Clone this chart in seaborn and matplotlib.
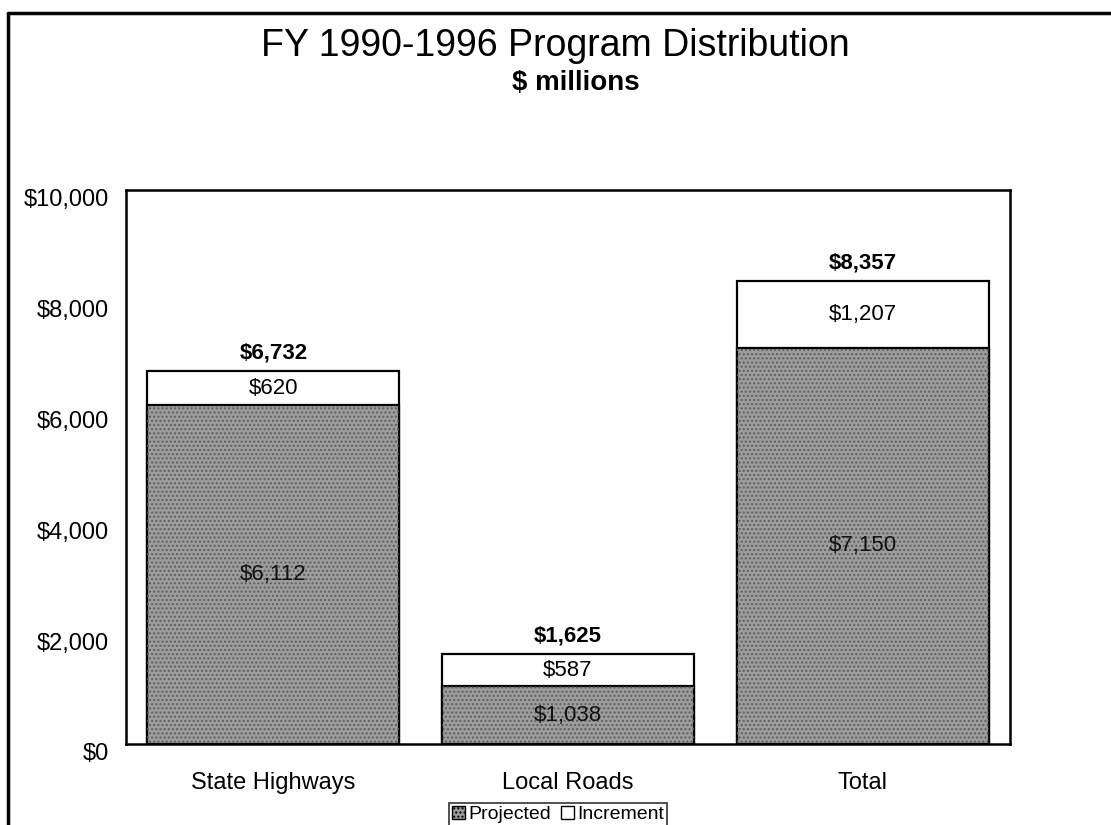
import numpy as np
import pandas as pd
import seaborn as sns
import matplotlib.pyplot as plt
import matplotlib.transforms as mtransforms
from matplotlib.lines import Line2D
from matplotlib.patches import Patch

categories = ["State Highways", "Local Roads", "Total"]
projected = [6112, 1038, 7150]
increment = [620, 587, 1207]
y_ticks = [0, 2000, 4000, 6000, 8000, 10000]

totals = [p + i for p, i in zip(projected, increment)]

df = pd.DataFrame({
    "category": categories,
    "projected": projected,
    "increment": increment,
    "total": totals,
})

sns.set_style("white")
plt.rcParams['font.family'] = ['Liberation Sans', 'DejaVu Sans']
plt.rcParams['text.color'] = 'black'
plt.rcParams['xtick.color'] = 'black'
plt.rcParams['ytick.color'] = 'black'

fig = plt.figure(figsize=(11.11, 8.25), dpi=100)
ax = fig.add_axes([0.1134, 0.0982, 0.7957, 0.6715])

gray = "#9d9d9d"
bar_w = 0.855

# full stack (white increment on top), then projected part over it
sns.barplot(data=df, x="category", y="total", color="white", width=bar_w,
            edgecolor="black", linewidth=1.6, saturation=1, ax=ax)
sns.barplot(data=df, x="category", y="projected", color=gray, width=bar_w,
            edgecolor="black", linewidth=1.6, saturation=1, ax=ax)
# stipple texture
sns.barplot(data=df, x="category", y="projected", fill=False, width=bar_w,
            edgecolor="#5e5e5e", linewidth=0, hatch="....", ax=ax)

ax.set_ylim(0, 10000)
ax.set_xlim(-0.5, 2.5)
ax.set_yticks(y_ticks)
ax.set_yticklabels([f"${v:,}" for v in y_ticks], fontsize=17)
ax.tick_params(axis="y", length=0, pad=12)
ax.tick_params(axis="x", length=0, pad=20, labelsize=17)
ax.set_xlabel("")
ax.set_ylabel("")

# tick labels sit a bit below their gridline in the original
offset = mtransforms.ScaledTranslation(0, -8 / 100, fig.dpi_scale_trans)
for lab in ax.get_yticklabels():
    lab.set_transform(lab.get_transform() + offset)

for sp in ax.spines.values():
    sp.set_visible(True)
    sp.set_color("black")
    sp.set_linewidth(1.8)

for i, cat in enumerate(categories):
    p, inc, t = projected[i], increment[i], totals[i]
    ax.text(i, t + 330, f"${t:,}", ha="center", va="center",
            fontsize=16, fontweight="bold")
    ax.text(i, p + inc / 2, f"${inc:,}", ha="center", va="center", fontsize=16)
    ax.text(i, p / 2, f"${p:,}", ha="center", va="center", fontsize=16,
            color="#111111")

fig.text(0.5, 1 - 46 / 825, "FY 1990-1996 Program Distribution",
         ha="center", va="center", fontsize=27)
fig.text(0.518, 1 - 83 / 825, "$ millions", ha="center", va="center",
         fontsize=20, fontweight="bold")

handles = [
    Patch(facecolor=gray, edgecolor="black", hatch="....", label="Projected"),
    Patch(facecolor="white", edgecolor="black", label="Increment"),
]
leg = fig.legend(handles=handles, loc="upper center",
                 bbox_to_anchor=(0.502, 1 - 793 / 825), ncol=2, fontsize=14,
                 frameon=True, fancybox=False, handlelength=0.7,
                 handleheight=0.7, handletextpad=0.15, columnspacing=0.5,
                 borderpad=0.15)
leg.get_frame().set_edgecolor("black")
leg.get_frame().set_linewidth(1.2)

# page border lines (top and left)
fig.add_artist(Line2D([8 / 1111, 1.0], [1 - 13 / 825, 1 - 13 / 825],
                      transform=fig.transFigure, color="black", linewidth=2.5))
fig.add_artist(Line2D([8 / 1111, 8 / 1111], [0, 1 - 13 / 825],
                      transform=fig.transFigure, color="black", linewidth=2.5))

fig.savefig("out.png", dpi=100)
